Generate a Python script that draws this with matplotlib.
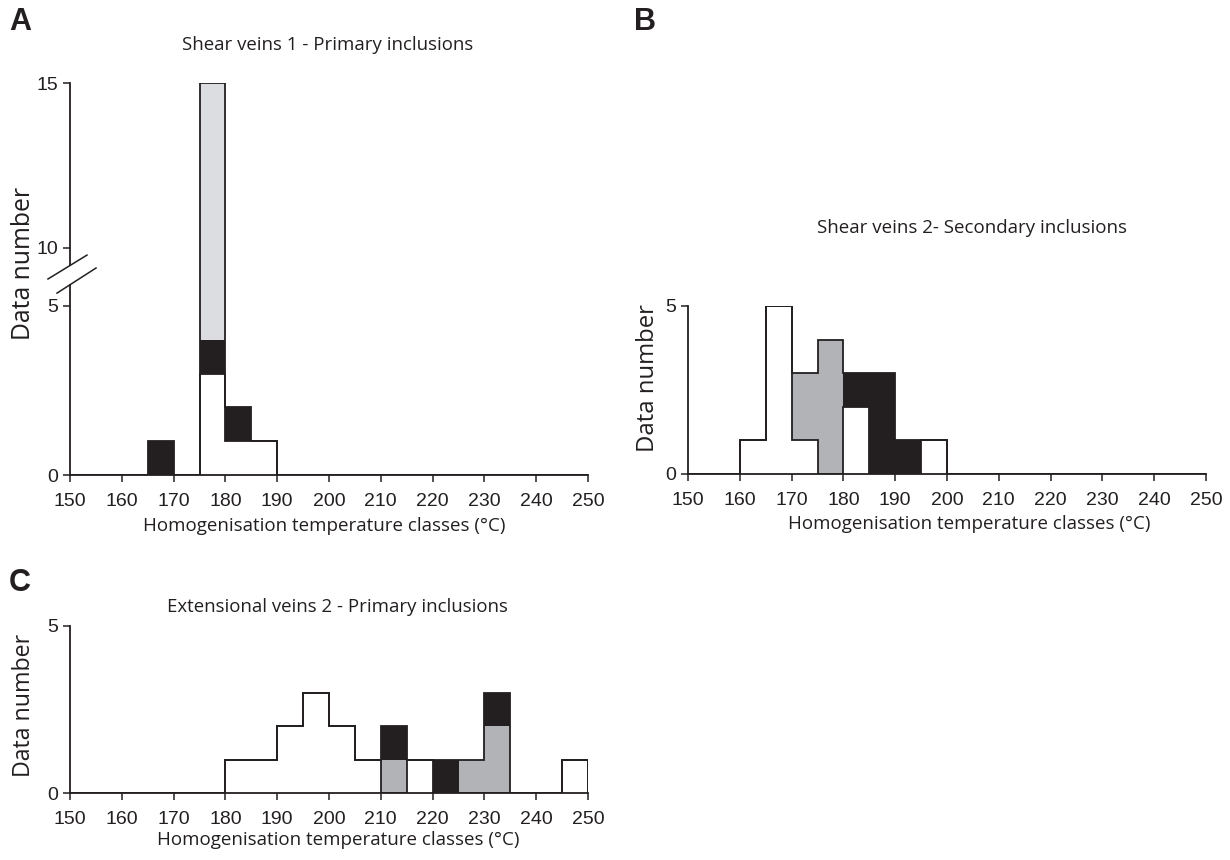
import numpy as np
import matplotlib
matplotlib.use("Agg")
import matplotlib.pyplot as plt

# ---------------- data ----------------
edges = np.arange(150, 255, 5)  # 5 °C classes 150..250
xticks = list(range(150, 260, 10))

# Panel A: Shear veins 1 - Primary inclusions (stack order: white, black, light grey)
A_white = [0, 0, 0, 0, 0, 3, 1, 1, 0, 0, 0, 0, 0, 0, 0, 0, 0, 0, 0, 0]
A_black = [0, 0, 0, 1, 0, 1, 1, 0, 0, 0, 0, 0, 0, 0, 0, 0, 0, 0, 0, 0]
A_lgrey = [0, 0, 0, 0, 0, 11, 0, 0, 0, 0, 0, 0, 0, 0, 0, 0, 0, 0, 0, 0]

# Panel B: Shear veins 2 - Secondary inclusions (stack order: white, grey, black)
B_white = [0, 0, 1, 5, 1, 0, 2, 0, 0, 1, 0, 0, 0, 0, 0, 0, 0, 0, 0, 0]
B_grey = [0, 0, 0, 0, 2, 4, 0, 0, 0, 0, 0, 0, 0, 0, 0, 0, 0, 0, 0, 0]
B_black = [0, 0, 0, 0, 0, 0, 1, 3, 1, 0, 0, 0, 0, 0, 0, 0, 0, 0, 0, 0]

# Panel C: Extensional veins 2 - Primary inclusions (stack order: white, grey, black)
C_white = [0, 0, 0, 0, 0, 0, 1, 1, 2, 3, 2, 1, 0, 1, 0, 0, 0, 0, 0, 1]
C_grey = [0, 0, 0, 0, 0, 0, 0, 0, 0, 0, 0, 0, 1, 0, 0, 1, 2, 0, 0, 0]
C_black = [0, 0, 0, 0, 0, 0, 0, 0, 0, 0, 0, 0, 1, 0, 1, 0, 1, 0, 0, 0]

titles = ["Shear veins 1 - Primary inclusions",
          "Shear veins 2- Secondary inclusions",
          "Extensional veins 2 - Primary inclusions"]
xlabel = "Homogenisation temperature classes (\u00b0C)"
ylabel = "Data number"

# ---------------- style ----------------
W, H = 1230, 860
DPI = 100
INK = "#231f20"
GREY = "#b1b3b6"
LGREY = "#dcdde0"
TICKFONT = "Liberation Sans"
TEXTFONT = "Open Sans"

fig = plt.figure(figsize=(W / DPI, H / DPI), dpi=DPI)
fig.patch.set_facecolor("white")


def px_axes(x0, x1, ytop, ybot):
    return fig.add_axes([x0 / W, (H - ybot) / H, (x1 - x0) / W, (ybot - ytop) / H])


def style_axes(ax, ymax, yticks):
    ax.set_xlim(150, 250)
    ax.set_ylim(0, ymax)
    for s in ("top", "right"):
        ax.spines[s].set_visible(False)
    for s in ("left", "bottom"):
        ax.spines[s].set_linewidth(1.3)
        ax.spines[s].set_color(INK)
    ax.set_xticks(xticks)
    ax.set_yticks(yticks)
    ax.tick_params(direction="out", length=5, width=1.1, color=INK,
                   labelsize=14, labelcolor=INK)
    ax.tick_params(axis="x", pad=8)
    ax.tick_params(axis="y", pad=3.5)
    for lab in ax.get_xticklabels() + ax.get_yticklabels():
        lab.set_fontfamily(TICKFONT)
    ax.set_facecolor("none")


def draw_stack(ax, layers):
    bottom = np.zeros(len(edges) - 1)
    for vals, col in layers:
        v = np.asarray(vals, float)
        top = bottom + v
        # one filled polygon per layer -> no seams between adjacent classes
        ax.stairs(top, edges, baseline=bottom.copy(), fill=True, color=col,
                  linewidth=0, zorder=2)
        bottom = top
    # outline of the white layer and overall envelope
    white = np.asarray(layers[0][0], float)
    ax.stairs(white, edges, baseline=0, color=INK, linewidth=1.3, zorder=3)
    ax.stairs(bottom, edges, baseline=0, color=INK, linewidth=1.3, zorder=3)


# ---------- Panel A (broken y axis) ----------
a_mid = 58 / 169.0
a_up = 165 / 169.0


def fwd(y):
    y = np.asarray(y, float)
    return np.where(y <= 5, y,
                    np.where(y <= 10, 5 + (y - 5) * a_mid,
                             5 + 5 * a_mid + (y - 10) * a_up))


def inv(t):
    t = np.asarray(t, float)
    t5 = 5 + 5 * a_mid
    return np.where(t <= 5, t,
                    np.where(t <= t5, 5 + (t - 5) / a_mid,
                             10 + (t - t5) / a_up))


axA = px_axes(70, 588, 83, 475)
axA.set_yscale("function", functions=(fwd, inv))
draw_stack(axA, [(A_white, "white"), (A_black, INK), (A_lgrey, LGREY)])
style_axes(axA, 15, [0, 5, 10, 15])
axA.spines["left"].set_visible(False)
# broken left axis line
gap_lo = (475 - 284.7) / 392.0
gap_hi = (475 - 265.5) / 392.0
axA.plot([0, 0], [0, gap_lo], transform=axA.transAxes, color=INK, lw=1.3, clip_on=False)
axA.plot([0, 0], [gap_hi, 1], transform=axA.transAxes, color=INK, lw=1.3, clip_on=False)
# break marks
axA.plot([-0.0425, 0.0328], [0.500, 0.561], transform=axA.transAxes, color=INK, lw=1.1, clip_on=False)
axA.plot([-0.0251, 0.0502], [0.464, 0.528], transform=axA.transAxes, color=INK, lw=1.1, clip_on=False)

# ---------- Panel B ----------
axB = px_axes(688, 1206, 306, 474)
draw_stack(axB, [(B_white, "white"), (B_grey, GREY), (B_black, INK)])
style_axes(axB, 5, [0, 5])

# ---------- Panel C ----------
axC = px_axes(70, 588, 626, 793)
draw_stack(axC, [(C_white, "white"), (C_grey, GREY), (C_black, INK)])
style_axes(axC, 5, [0, 5])


# ---------- texts ----------
def ftext(x, y, s, **kw):
    fig.text(x / W, 1 - y / H, s, ha="center", va="center", color=INK, **kw)


ftext(328, 45, titles[0], fontsize=13.4, fontfamily=TEXTFONT)
ftext(972, 228, titles[1], fontsize=13.5, fontfamily=TEXTFONT)
ftext(337, 607, titles[2], fontsize=13.4, fontfamily=TEXTFONT)

ftext(324, 526, xlabel, fontsize=13.5, fontfamily=TEXTFONT)
ftext(969, 524, xlabel, fontsize=13.5, fontfamily=TEXTFONT)
ftext(338, 840, xlabel, fontsize=13.5, fontfamily=TEXTFONT)

ftext(24, 263, ylabel, fontsize=17.8, fontfamily=TEXTFONT, rotation=90)
ftext(648, 378, ylabel, fontsize=17.2, fontfamily=TEXTFONT, rotation=90)
ftext(24, 705, ylabel, fontsize=16.7, fontfamily=TEXTFONT, rotation=90)

for lab, (x, y) in zip("ABC", [(20, 22), (645, 22), (20, 583)]):
    ftext(x, y, lab, fontsize=22, fontweight="bold", fontfamily="Liberation Sans")

fig.savefig("out.png", dpi=DPI)
